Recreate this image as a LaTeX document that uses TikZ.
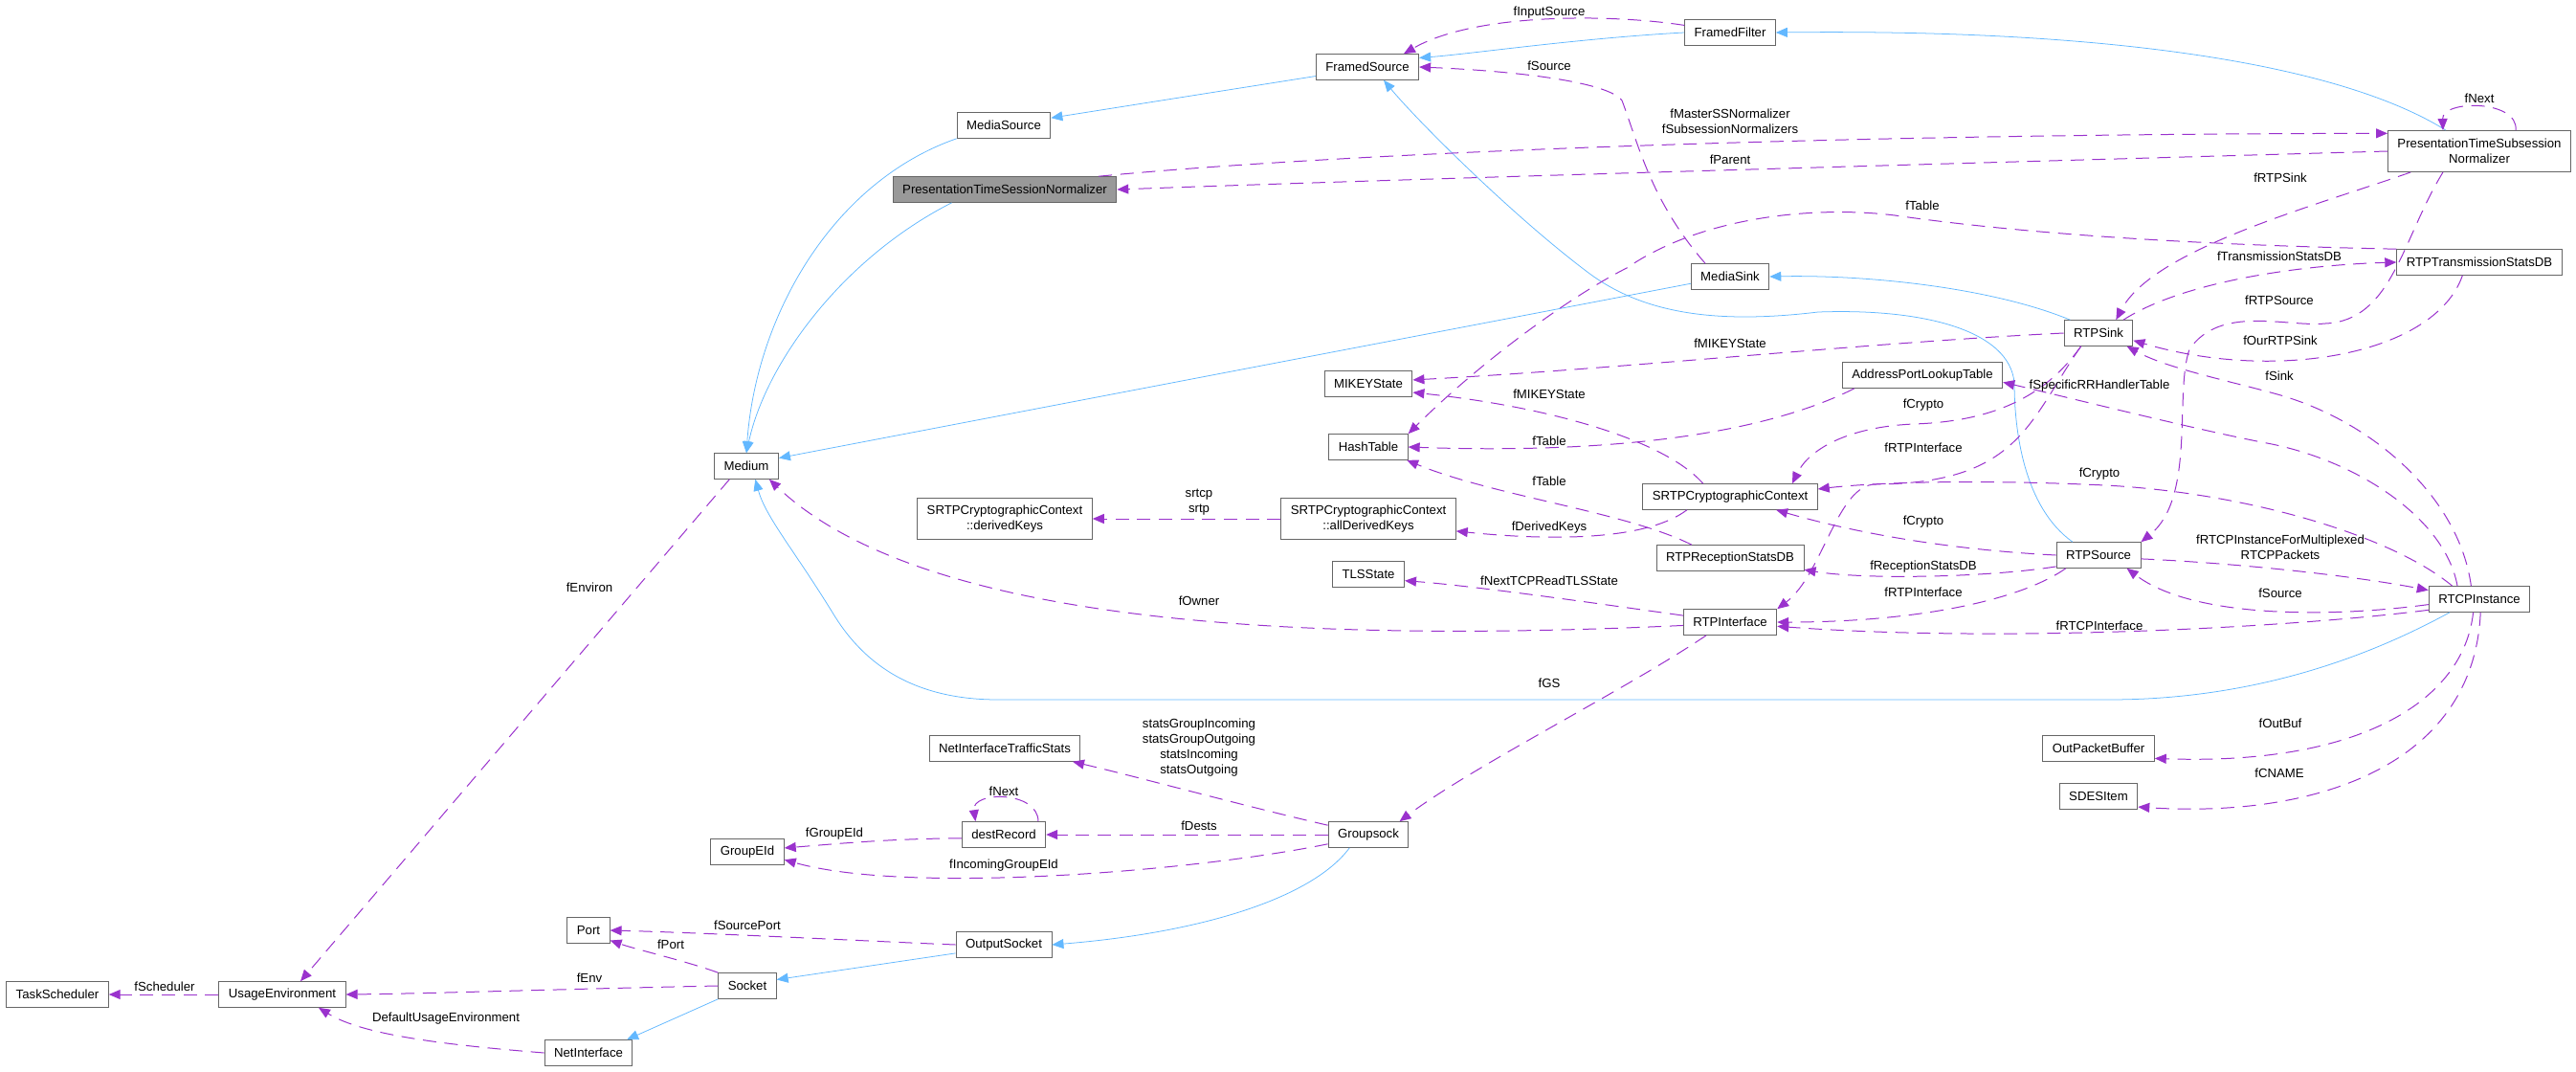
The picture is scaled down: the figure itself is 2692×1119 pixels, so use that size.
\documentclass[tikz,border=0pt]{standalone}
\usepackage{fontspec}
\setmainfont{Liberation Sans}
\usetikzlibrary{arrows.meta}
\definecolor{inhBlue}{RGB}{99,184,255}
\definecolor{usePurple}{RGB}{154,50,205}
\definecolor{boxGray}{RGB}{102,102,102}
\definecolor{focusGray}{RGB}{153,153,153}

\begin{document}
\begin{tikzpicture}[x=0.03cm,y=-0.03cm,font=\fontsize{11.26}{13.6}\selectfont,
  cls/.style={draw=boxGray,fill=white,line width=0.8pt,inner xsep=0.3cm,inner ysep=0.1cm,minimum height=0.8cm,align=center},
  cls2/.style={cls,minimum height=1.29cm},
  inh/.style={draw=inhBlue,line width=0.65pt,-{Triangle[length=0.36cm,width=0.3cm]}},
  uses/.style={draw=usePurple,line width=0.85pt,dash pattern=on 0.42cm off 0.26cm,-{Triangle[length=0.36cm,width=0.3cm]}},
  lbl/.style={inner sep=1pt,align=center}]
\useasboundingbox (0,0) rectangle (2692,1119);

\node[cls] (ffilter) at (1808,34) {FramedFilter};
\node[cls] (fsource) at (1429,70) {FramedSource};
\node[cls] (msource) at (1049,131) {MediaSource};
\node[cls,fill=focusGray] (ptsess) at (1050,198) {PresentationTimeSessionNormalizer};
\node[cls2] (ptsub) at (2591,158) {PresentationTimeSubsession\\Normalizer};
\node[cls] (txdb) at (2591,274) {RTPTransmissionStatsDB};
\node[cls] (msink) at (1808,289) {MediaSink};
\node[cls] (rtpsink) at (2193,348) {RTPSink};
\node[cls] (mikey) at (1430,401) {MIKEYState};
\node[cls] (aplt) at (2009,392) {AddressPortLookupTable};
\node[cls] (hasht) at (1430,467) {HashTable};
\node[cls] (medium) at (780,487) {Medium};
\node[cls] (srtpcc) at (1808,519) {SRTPCryptographicContext};
\node[cls2] (dkeys) at (1050,542) {SRTPCryptographicContext\\::derivedKeys};
\node[cls2] (adkeys) at (1430,542) {SRTPCryptographicContext\\::allDerivedKeys};
\node[cls] (rxdb) at (1808,583) {RTPReceptionStatsDB};
\node[cls] (rtpsrc) at (2193,580) {RTPSource};
\node[cls] (rtcp) at (2591,626) {RTCPInstance};
\node[cls] (tls) at (1430,600) {TLSState};
\node[cls] (rtpif) at (1808,650) {RTPInterface};
\node[cls] (opb) at (2193,782) {OutPacketBuffer};
\node[cls] (sdes) at (2193,832) {SDESItem};
\node[cls] (nits) at (1050,782) {NetInterfaceTrafficStats};
\node[cls] (dest) at (1049,872) {destRecord};
\node[cls] (geid) at (781,890) {GroupEId};
\node[cls] (gsock) at (1430,872) {Groupsock};
\node[cls] (port) at (615,972) {Port};
\node[cls] (osock) at (1049,987) {OutputSocket};
\node[cls] (sock) at (781,1030) {Socket};
\node[cls] (tsched) at (60,1039) {TaskScheduler};
\node[cls] (uenv) at (295,1039) {UsageEnvironment};
\node[cls] (netif) at (615,1100) {NetInterface};

\draw[inh] (ffilter.west) .. controls (1650,40) and (1540,56) .. (fsource.10);
\draw[inh] (ptsub.148) .. controls (2450,70) and (2220,30) .. (ffilter.east);
\draw[inh] (fsource.-170) -- (msource.9);
\draw[inh] (msource.south west) .. controls (870,190) and (790,330) .. (medium.north);
\draw[inh] (ptsess.-166) .. controls (880,270) and (800,380) .. (medium.north);
\draw[inh] (msink.-170) -- (medium.14);
\draw[inh] (rtpsink.155) .. controls (2080,300) and (1950,287) .. (msink.east);
\draw[inh] (rtpsrc.153) .. controls (2115,530) and (2105,450) .. (2105,400)
  .. controls (2100,345) and (2010,322) .. (1900,326)
  .. controls (1800,338) and (1720,330) .. (1660,285)
  .. controls (1580,225) and (1480,125) .. (fsource.-39);
\draw[inh] (rtcp.-156) .. controls (2450,700) and (2330,731) .. (2204,731) -- (1043,731)
  .. controls (950,731) and (900,690) .. (870,640) .. controls (830,575) and (800,540) .. (medium.-56);
\draw[inh] (gsock.-145) .. controls (1370,940) and (1250,975) .. (osock.east);
\draw[inh] (osock.-170) -- (sock.12);
\draw[inh] (sock.south west) -- (netif.19);

\draw[uses] (ffilter.171) .. controls (1680,14) and (1540,14) .. (fsource.20);
\draw[uses] (msink.152) .. controls (1725,210) and (1712,150) .. (1695,105)
  .. controls (1680,85) and (1580,74) .. (fsource.east);
\draw[uses] (ptsub.west) .. controls (2000,172) and (1500,186) .. (ptsess.east);
\draw[uses] (ptsess.8) .. controls (1400,160) and (1900,140) .. (ptsub.169);
\draw[uses] (ptsub.30) .. controls (2632,104) and (2552,104) .. (ptsub.150);
\draw[uses] (ptsub.-163) .. controls (2420,215) and (2250,260) .. (rtpsink.37);
\draw[uses] (ptsub.-150) .. controls (2510,250) and (2500,335) .. (2430,338)
  .. controls (2390,342) and (2320,318) .. (2288,365)
  .. controls (2272,410) and (2295,520) .. (rtpsrc.north east);
\draw[uses] (rtpsink.28) .. controls (2280,295) and (2400,277) .. (txdb.west);
\draw[uses] (txdb.-142) .. controls (2545,370) and (2380,400) .. (rtpsink.-12);
\draw[uses] (txdb.north west) .. controls (2300,256) and (2120,245) .. (1980,225)
  .. controls (1900,215) and (1780,225) .. (1700,280)
  .. controls (1640,310) and (1545,380) .. (hasht.north east);
\draw[uses] (rtpsink.west) .. controls (1950,358) and (1700,385) .. (mikey.5);
\draw[uses] (srtpcc.154) .. controls (1740,460) and (1620,425) .. (mikey.-11);
\draw[uses] (aplt.-169) .. controls (1850,450) and (1700,475) .. (hasht.east);
\draw[uses] (rxdb.161) .. controls (1700,535) and (1560,518) .. (hasht.-19);
\draw[uses] (srtpcc.-163) .. controls (1720,565) and (1620,565) .. (adkeys.-8);
\draw[uses] (adkeys.west) -- (dkeys.east);
\draw[uses] (rtpsink.-143) .. controls (2140,410) and (2090,440) .. (2000,443)
  .. controls (1930,446) and (1890,470) .. (srtpcc.12);
\draw[uses] (rtpsink.-143) .. controls (2120,440) and (2110,505) .. (1960,506)
  .. controls (1920,506) and (1905,600) .. (rtpif.north east);
\draw[uses] (rtpsrc.west) .. controls (2050,575) and (1950,560) .. (srtpcc.-16);
\draw[uses] (rtpsrc.-165) .. controls (2080,603) and (1950,606) .. (rxdb.-9);
\draw[uses] (rtpsrc.-158) .. controls (2110,628) and (2000,650) .. (rtpif.east);
\draw[uses] (rtcp.-168) .. controls (2400,655) and (2100,672) .. (rtpif.-5);
\draw[uses] (rtpsrc.-5) .. controls (2330,588) and (2450,600) .. (rtcp.170);
\draw[uses] (rtcp.-174) .. controls (2430,646) and (2290,645) .. (rtpsrc.-25);
\draw[uses] (rtcp.122) .. controls (2570,520) and (2480,440) .. (2380,412)
  .. controls (2330,398) and (2265,385) .. (rtpsink.-25);
\draw[uses] (rtcp.149) .. controls (2555,540) and (2460,480) .. (2369,463)
  .. controls (2300,450) and (2160,415) .. (aplt.-5);
\draw[uses] (rtcp.154) .. controls (2500,560) and (2350,515) .. (2200,507)
  .. controls (2050,500) and (1950,505) .. (srtpcc.5);
\draw[uses] (rtcp.-115) .. controls (2575,730) and (2470,800) .. (opb.-10);
\draw[uses] (rtcp.-85) .. controls (2585,800) and (2420,855) .. (sdes.-15);
\draw[uses] (rtpif.172) .. controls (1680,632) and (1540,612) .. (tls.-10);
\draw[uses] (rtpif.-176) .. controls (1300,675) and (950,640) .. (medium.-30);
\draw[uses] (rtpif.-151) .. controls (1700,720) and (1540,800) .. (gsock.23);
\draw[uses] (medium.-142) -- (uenv.36);
\draw[uses] (uenv.west) -- (tsched.east);
\draw[uses] (sock.west) .. controls (600,1033) and (450,1038) .. (uenv.east);
\draw[uses] (netif.west) .. controls (470,1092) and (380,1082) .. (uenv.-20);
\draw[uses] (sock.north west) .. controls (720,1005) and (665,992) .. (port.-25);
\draw[uses] (osock.west) .. controls (900,983) and (750,975) .. (port.east);
\draw[uses] (gsock.-167) .. controls (1250,910) and (950,935) .. (geid.-12);
\draw[uses] (dest.-175) .. controls (930,876) and (870,882) .. (geid.6);
\draw[uses] (dest.21) .. controls (1085,826) and (1015,826) .. (dest.155);
\draw[uses] (gsock.west) -- (dest.east);
\draw[uses] (gsock.167) .. controls (1300,842) and (1190,812) .. (nits.-11);

\node[lbl] (lInputSource) at (1619,13) {fInputSource};
\node[lbl] (lSource) at (1619,69) {fSource};
\node[lbl] (lMaster) at (1808,127) {fMasterSSNormalizer\\fSubsessionNormalizers};
\node[lbl] (lParent) at (1808,167) {fParent};
\node[lbl] (lNextSub) at (2591,103) {fNext};
\node[lbl] (lRTPSink) at (2383,186) {fRTPSink};
\node[lbl] (lTableTx) at (2009,215) {fTable};
\node[lbl] (lTxStats) at (2382,268) {fTransmissionStatsDB};
\node[lbl] (lRTPSource) at (2382,314) {fRTPSource};
\node[lbl] (lOurSink) at (2383,356) {fOurRTPSink};
\node[lbl] (lMikeySink) at (1808,359) {fMIKEYState};
\node[lbl] (lSink) at (2382,393) {fSink};
\node[lbl] (lRRTable) at (2194,403) {fSpecificRRHandlerTable};
\node[lbl] (lMikeyCtx) at (1619,412) {fMIKEYState};
\node[lbl] (lCryptoSink) at (2010,423) {fCrypto};
\node[lbl] (lTableAddr) at (1619,461) {fTable};
\node[lbl] (lIfSink) at (2010,468) {fRTPInterface};
\node[lbl] (lCryptoRtcp) at (2194,495) {fCrypto};
\node[lbl] (lTableRx) at (1619,503) {fTable};
\node[lbl] (lSrtcp) at (1253,525) {srtcp\\srtp};
\node[lbl] (lCryptoSrc) at (2010,545) {fCrypto};
\node[lbl] (lDerived) at (1619,551) {fDerivedKeys};
\node[lbl] (lMux) at (2383,572) {fRTCPInstanceForMultiplexed\\RTCPPackets};
\node[lbl] (lRxStats) at (2010,592) {fReceptionStatsDB};
\node[lbl] (lTls) at (1619,607) {fNextTCPReadTLSState};
\node[lbl] (lEnviron) at (616,614) {fEnviron};
\node[lbl] (lIfSrc) at (2010,619) {fRTPInterface};
\node[lbl] (lSourceRtcp) at (2383,620) {fSource};
\node[lbl] (lOwner) at (1253,628) {fOwner};
\node[lbl] (lRtcpIf) at (2194,654) {fRTCPInterface};
\node[lbl] (lGS) at (1619,714) {fGS};
\node[lbl] (lOutBuf) at (2383,756) {fOutBuf};
\node[lbl] (lStats) at (1253,781) {statsGroupIncoming\\statsGroupOutgoing\\statsIncoming\\statsOutgoing};
\node[lbl] (lCname) at (2382,808) {fCNAME};
\node[lbl] (lNextDest) at (1049,827) {fNext};
\node[lbl] (lDests) at (1253,863) {fDests};
\node[lbl] (lGroupEId) at (872,871) {fGroupEId};
\node[lbl] (lInGroupEId) at (1049,904) {fIncomingGroupEId};
\node[lbl] (lSrcPort) at (781,967) {fSourcePort};
\node[lbl] (lPort) at (701,987) {fPort};
\node[lbl] (lEnv) at (616,1022) {fEnv};
\node[lbl] (lScheduler) at (172,1031) {fScheduler};
\node[lbl] (lDefEnv) at (466,1064) {DefaultUsageEnvironment};
\end{tikzpicture}
\end{document}
